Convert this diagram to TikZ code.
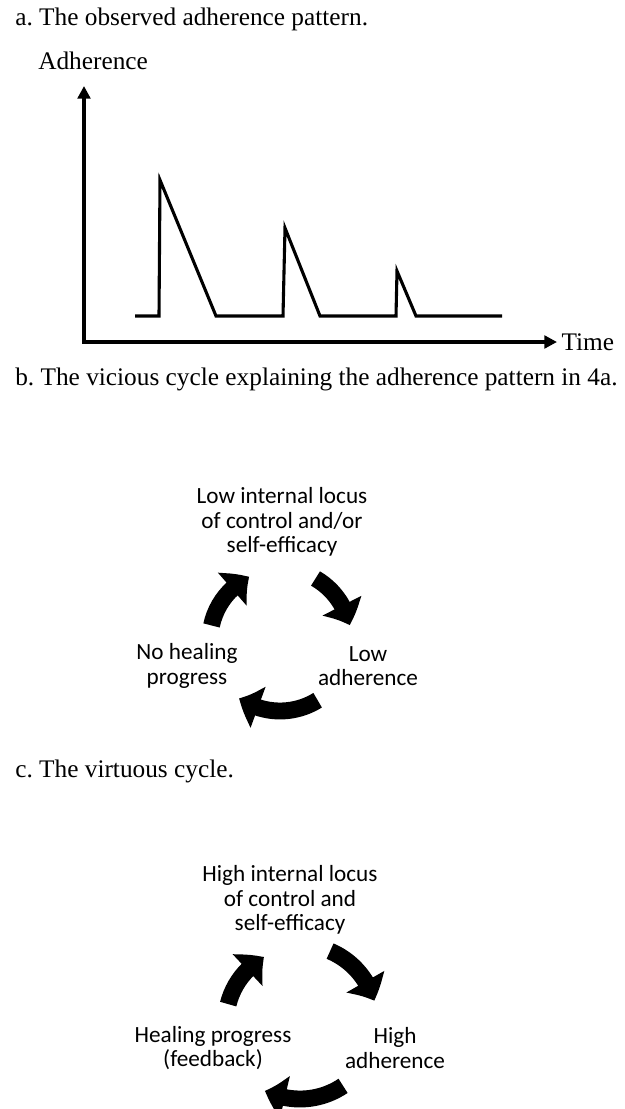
\documentclass[tikz,border=0pt]{standalone}
\usepackage{fontspec}
\setmainfont{Liberation Serif}
\newfontfamily\cyclefont{Carlito}
\usetikzlibrary{arrows.meta,bending,calc}
\frenchspacing

\tikzset{
    title/.style={anchor=west, inner sep=0pt, font=\fontsize{18}{21}\selectfont},
    axis/.style={line width=2.6pt, {Triangle[length=9pt,width=9pt]}-{Triangle[length=9pt,width=9pt]}},
    curve/.style={line width=2.2pt, line join=miter},
    phase/.style={align=center, inner sep=0pt, font=\cyclefont\fontsize{16.5}{17.5}\selectfont},
    cyc/.style={line width=12pt, -{Triangle[length=15pt,width=30pt,bend]}}
}

\begin{document}
\begin{tikzpicture}[x=0.025cm,y=0.025cm]
    \useasboundingbox (0,0) rectangle (624,-1109);

    % a. adherence over time
    \node[title] (titlea) at (15,-19) {a. The observed adherence pattern.};
    \coordinate (ytop) at (84,-86);
    \coordinate (origin) at (84,-342);
    \coordinate (xend) at (557,-342);
    \draw[axis] (ytop) -- (origin) -- (xend);
    \node[title] (ylabel) at (38,-61) {Adherence};
    \node[title, anchor=west] (xlabel) at (xend) {\,Time};
    \draw[curve] (135,-316) -- (159,-316) -- (160,-180) -- (216,-316) -- (283,-316) -- (285,-228)
        -- (320,-316) -- (396,-316) -- (397,-271) -- (416,-316) -- (502,-316);

    % b. vicious cycle
    \node[title] (titleb) at (15,-379) {b. The vicious cycle explaining the adherence pattern in 4a.};
    \coordinate (bc) at (280,-640);
    \node[phase] (lowlocus) at (282,-522) {Low internal locus\\of control and/or\\self-efficacy};
    \node[phase] (lowadh) at (368,-666) {Low\\adherence};
    \node[phase] (nohealing) at (187,-666) {No healing\\progress};
    \draw[cyc] ($(bc)+(60:71)$) arc[start angle=60, end angle=12, radius=71];
    \draw[cyc] ($(bc)+(-58:71)$) arc[start angle=-58, end angle=-125, radius=71];
    \draw[cyc] ($(bc)+(168:70)$) arc[start angle=168, end angle=116, radius=70];

    % c. virtuous cycle
    \node[title] (titlec) at (15,-771) {c. The virtuous cycle.};
    \coordinate (cc) at (300,-1022);
    \node[phase] (highlocus) at (290,-900) {High internal locus\\of control and\\self-efficacy};
    \node[phase] (highadh) at (395,-1048) {High\\adherence};
    \node[phase] (healing) at (213,-1048) {Healing progress\\(feedback)};
    \draw[cyc] ($(cc)+(67:77)$) arc[start angle=67, end angle=16, radius=77];
    \draw[cyc] ($(cc)+(-56:77)$) arc[start angle=-56, end angle=-117, radius=77];
    \draw[cyc] ($(cc)+(166:74)$) arc[start angle=166, end angle=119, radius=74];
\end{tikzpicture}
\end{document}
